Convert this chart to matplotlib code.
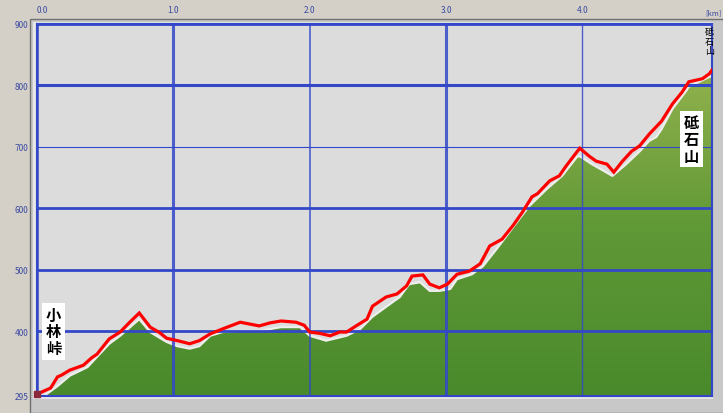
"""
Elevation profile: 小林峠 -> 砥石山
"""

import matplotlib.pyplot as plt
import numpy as np
from matplotlib.colors import LinearSegmentedColormap
from matplotlib.patches import Rectangle

plt.rcParams["font.family"] = ["Noto Sans CJK JP", "DejaVu Sans"]

# Route (red line): distance [km], elevation [m]
route_km = [0.00, 0.04, 0.10, 0.15, 0.18, 0.24, 0.34, 0.40, 0.44, 0.53,
            0.61, 0.68, 0.75, 0.83, 0.90, 0.95, 1.03, 1.12, 1.19, 1.27,
            1.36, 1.49, 1.63, 1.71, 1.79, 1.90, 1.96, 2.00, 2.07, 2.15,
            2.22, 2.27, 2.34, 2.42, 2.46, 2.56, 2.64, 2.71, 2.75, 2.83,
            2.88, 2.95, 3.01, 3.08, 3.17, 3.25, 3.32, 3.41, 3.49, 3.56,
            3.63, 3.67, 3.76, 3.83, 3.88, 3.98, 4.05, 4.10, 4.18, 4.23,
            4.29, 4.36, 4.42, 4.49, 4.58, 4.66, 4.73, 4.78, 4.88, 4.93, 4.95]
route_elev = [298, 302, 308, 326, 329, 337, 345, 357, 363, 388,
              399, 415, 430, 407, 398, 389, 385, 380, 385, 396,
              404, 415, 409, 414, 417, 415, 410, 399, 397, 393,
              399, 399, 409, 420, 441, 456, 461, 474, 490, 492,
              477, 471, 477, 493, 498, 510, 539, 550, 572, 594,
              619, 624, 645, 653, 669, 698, 685, 677, 672, 659,
              676, 693, 702, 721, 742, 770, 789, 806, 811, 819, 825]

# Terrain (green area) top: distance [km], elevation [m]
ground_km = [0.05, 0.15, 0.24, 0.37, 0.53, 0.61, 0.75, 0.83, 0.95, 1.03,
             1.12, 1.19, 1.27, 1.36, 1.49, 1.63, 1.71, 1.79, 1.93, 2.00,
             2.12, 2.27, 2.37, 2.46, 2.56, 2.66, 2.73, 2.81, 2.88, 2.95,
             3.03, 3.08, 3.19, 3.27, 3.37, 3.52, 3.61, 3.74, 3.85, 3.96,
             3.98, 4.07, 4.22, 4.32, 4.42, 4.49, 4.54, 4.58, 4.66, 4.76,
             4.78, 4.93, 4.95]
ground_elev = [295, 311, 328, 342, 380, 393, 420, 399, 383, 376,
               372, 376, 393, 399, 401, 401, 404, 407, 407, 393,
               385, 393, 404, 424, 440, 456, 477, 480, 466, 466,
               469, 485, 493, 506, 534, 578, 604, 632, 653, 684,
               685, 672, 653, 672, 693, 710, 716, 729, 762, 791,
               798, 814, 815]

x_ticks = [0.0, 1.0, 2.0, 3.0, 4.0]
y_ticks = [295, 400, 500, 600, 700, 800, 900]

start_name = "小林峠"
end_name = "砥石山"

W, H = 723, 414
fig = plt.figure(figsize=(W / 100, H / 100), dpi=100, facecolor="#d4d0c8")

# window-like frame around the plot
fig.patches.append(Rectangle((30 / W, 0), 1, (H - 20) / H, transform=fig.transFigure,
                             facecolor="#c8c8c8", edgecolor="#707070", lw=1, zorder=-2))
fig.patches.append(Rectangle((33 / W, 14 / H), (713 - 33) / W, (H - 14 - 23) / H,
                             transform=fig.transFigure, facecolor="#e6e6e6",
                             edgecolor="none", zorder=-1))

ax = fig.add_axes([37 / W, (H - 397) / H, (712 - 37) / W, (397 - 25) / H])
ax.set_zorder(1)
ax.set_facecolor("#dcdcdc")

# terrain with a vertical green gradient
fill = ax.fill_between(ground_km, ground_elev, 295, color="none", lw=0)
green = LinearSegmentedColormap.from_list("g", ["#4a8a2c", "#5f9836", "#92b24d"])
grad = np.linspace(0, 1, 256).reshape(-1, 1)
img = ax.imshow(grad, cmap=green, origin="lower", aspect="auto",
                extent=[0, 4.95, 295, 830], zorder=1)
img.set_clip_path(fill.get_paths()[0], transform=ax.transData)
ax.set_xlim(0, 4.95)
ax.set_ylim(295, 900)
ax.plot(ground_km, ground_elev, color="#eeeeee", lw=1.6, zorder=2)

# grid
blue = "#3348c8"
h_widths = [2.0, 2.0, 2.0, 2.0, 0.8, 2.2, 2.0]
for y, w in zip(y_ticks, h_widths):
    ax.axhline(y, color=blue, lw=w, zorder=3)
v_widths = [2.0, 2.2, 1.2, 2.2, 1.0]
for x, w in zip(x_ticks, v_widths):
    ax.axvline(x, color=blue, lw=w, zorder=3, alpha=0.85)

ax.plot(route_km, route_elev, color="#ff0000", lw=2.3, zorder=4,
        solid_joinstyle="miter")
ax.plot(route_km[0], route_elev[0], marker="s", ms=4, color="#8a2a3a",
        zorder=5, clip_on=False)

for s in ax.spines.values():
    s.set_color(blue)
    s.set_linewidth(1.5)

ax.xaxis.tick_top()
ax.set_xticks(x_ticks, [f"{v:.1f}" for v in x_ticks])
ax.set_yticks(y_ticks, [str(v) for v in y_ticks])
ax.tick_params(length=0, labelsize=6, labelcolor="#3a4aa0", pad=7)
ax.tick_params(axis="y", pad=6)
ax.get_xticklabels()[0].set_ha("left")
fig.text(722 / W, 1 - 13 / H, "[km]", fontsize=5.5, color="#3a4aa0",
         ha="right", va="center")

# place labels
box = dict(facecolor="white", edgecolor="none", pad=2.5)
ax.text(0.12, 400, "\n".join(start_name), fontsize=11, fontweight="bold",
        ha="center", va="center", linespacing=1.05, bbox=box, zorder=6)
ax.text(4.80, 713, "\n".join(end_name), fontsize=11, fontweight="bold",
        ha="center", va="center", linespacing=1.05, bbox=box, zorder=6)
ax.text(4.93, 872, "\n".join(end_name), fontsize=6.5, ha="center",
        va="center", linespacing=1.0, zorder=6, clip_on=False)

fig.savefig("out.png", dpi=100, facecolor=fig.get_facecolor())
